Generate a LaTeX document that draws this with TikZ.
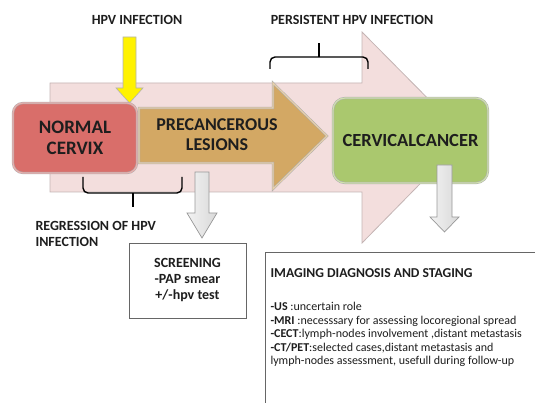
\documentclass[tikz,border=0pt]{standalone}
\usepackage{fontspec}
\setmainfont{Carlito}

\definecolor{bgpink}{HTML}{F3DEDD}
\definecolor{bgedge}{HTML}{C4B4B4}
\definecolor{cervixred}{HTML}{D96E6A}
\definecolor{lesiontan}{HTML}{D3A864}
\definecolor{cancergreen}{HTML}{AAC86E}
\definecolor{darktext}{HTML}{1E1E1E}

\tikzset{
  stagebox/.style={draw=gray!65, line width=0.5pt, double distance=1.2pt, rounded corners=10pt,
    align=center, text=darktext, font=\fontsize{19}{21}\selectfont\bfseries},
  infobox/.style={draw=gray!80!black, line width=0.8pt, fill=white},
  tagtext/.style={text=darktext, font=\fontsize{14}{16}\selectfont\bfseries},
  grayarrow/.style={draw=gray!80, line width=0.7pt, left color=gray!10, right color=gray!30},
  bracket/.style={draw=black, line width=1.4pt, rounded corners=5pt}
}

\begin{document}
\begin{tikzpicture}[x=1pt, y=-1pt]
    \useasboundingbox (0,0) rectangle (535,403);
    %\draw [help lines] (0,0) grid[step=50] (535,403);

    % big background arrow
    \path [fill=bgpink, draw=bgedge, line width=0.8pt] (50,83) -- (362,83) -- (362,32) -- (466,137) -- (362,243) -- (362,192) -- (50,192) -- cycle;

    % yellow arrow (hpv infection)
    \path [fill=yellow, draw=gray!60, line width=0.6pt] (123,37) -- (136,37) -- (136,88) -- (143,88) -- (129.5,103) -- (116,88) -- (123,88) -- cycle;

    % stages
    \node [stagebox, fill=cervixred, double=cervixred!55!white, minimum width=124, minimum height=70] (normal) at (75,138) {NORMAL\\CERVIX};
    \path [fill=lesiontan, draw=gray!65, line width=0.5pt, double=lesiontan!55!white, double distance=1.2pt] (139,108) -- (273,108) -- (273,83) -- (327,136) -- (273,189) -- (273,163) -- (139,163) -- cycle;
    \node [text=darktext, align=center, font=\fontsize{18}{20}\selectfont\bfseries] (precancer) at (217,135) {PRECANCEROUS\\LESIONS};
    \node [stagebox, fill=cancergreen, double=cancergreen!55!white, rounded corners=12pt, minimum width=155, minimum height=85] (cancer) at (410.5,140.5) {\fontsize{18.5}{20}\selectfont CERVICALCANCER};

    % gray arrows down
    \path [grayarrow] (195,172) -- (209,172) -- (209,213) -- (217,213) -- (202,238) -- (187,213) -- (195,213) -- cycle;
    \path [grayarrow] (437,165) -- (452,165) -- (452,217) -- (459,217) -- (444.5,232) -- (430,217) -- (437,217) -- cycle;

    % brackets
    \draw [bracket] (270,69) |- (368,57) -- (368,69);
    \draw [bracket] (319,57) -- (319,43);
    \draw [bracket] (83,177) |- (182,193) -- (182,177);
    \draw [bracket] (133,193) -- (133,207);

    % labels
    \node [tagtext] (hpv) at (137,20) {HPV INFECTION};
    \node [tagtext] (persist) at (352,20) {PERSISTENT HPV INFECTION};
    \node [tagtext, anchor=west, align=left] (regress) at (32,234) {REGRESSION OF HPV\\INFECTION};

    % screening
    \node [infobox, tagtext, align=center, minimum width=117, minimum height=75] (screening) at (187.5,280.5) {SCREENING\\-PAP smear\\+/-hpv test};

    % imaging
    \draw [infobox] (265,252) rectangle (540,410);
    \node [anchor=west, text=darktext, font=\fontsize{13.6}{15}\selectfont\bfseries] (imghead) at (267,273) {IMAGING DIAGNOSIS AND STAGING};
    \node [anchor=north west, align=left, text=darktext, font=\fontsize{12}{13.5}\selectfont] (imgbody) at (267,299) {\textbf{-US} :uncertain role\\
        \textbf{-MRI} :necesssary for assessing locoregional spread\\
        \textbf{-CECT}:lymph-nodes involvement ,distant metastasis\\
        \textbf{-CT/PET}:selected cases,distant metastasis and\\
        lymph-nodes assessment, usefull during follow-up};
\end{tikzpicture}
\end{document}
